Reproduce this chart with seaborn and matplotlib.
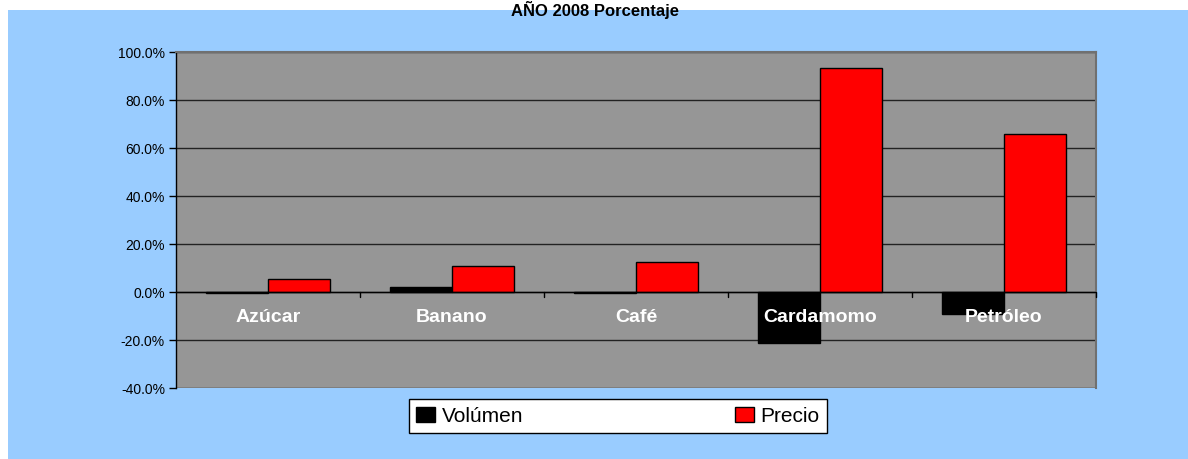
import numpy as np
import pandas as pd
import seaborn as sns
import matplotlib.pyplot as plt
from matplotlib.patches import Rectangle
from matplotlib.ticker import FuncFormatter

productos = ['Azúcar', 'Banano', 'Café', 'Cardamomo', 'Petróleo']
volumen = [-0.3, 1.9, -0.4, -21.2, -9.2]
precio = [5.4, 10.9, 12.4, 93.2, 65.7]

df = pd.DataFrame({
    'producto': productos * 2,
    'serie': ['Volúmen'] * 5 + ['Precio'] * 5,
    'valor': volumen + precio,
})

sns.set_style('white')
plt.rcParams['font.family'] = ['Liberation Sans', 'DejaVu Sans']
plt.rcParams['text.color'] = 'black'
plt.rcParams['ytick.color'] = 'black'

W, H = 1188, 459
fig = plt.figure(figsize=(W / 100, H / 100), dpi=100, facecolor='white')
# fondo azul del area del grafico
fig.patches.append(Rectangle((8 / W, 0), 1 - 8 / W, 1 - 10 / H,
                             transform=fig.transFigure, facecolor='#99CCFF',
                             edgecolor='none', zorder=-5))
fig.text(595 / W, 1 - 1 / H, 'AÑO 2008 Porcentaje', ha='center', va='top',
         fontsize=12, fontweight='bold', color='black')

ax = fig.add_axes([176 / W, 1 - 388 / H, 920 / W, 336 / H])
ax.set_facecolor('#969696')

sns.barplot(data=df, x='producto', y='valor', hue='serie', ax=ax,
            palette={'Volúmen': 'black', 'Precio': '#FF0000'},
            width=0.674, edgecolor='black', linewidth=1, saturation=1,
            legend=False, zorder=3)

ax.set_ylim(-40, 100)
ax.set_xlim(-0.5, 4.5)
ax.set_yticks(np.arange(-40, 101, 20))
ax.yaxis.set_major_formatter(FuncFormatter(lambda v, p: f'{v:.1f}%'))
ax.yaxis.grid(True, color='#222222', linewidth=1, zorder=1)
ax.set_axisbelow(True)
ax.tick_params(axis='y', length=5, width=1, color='black', labelsize=10,
               labelcolor='black', left=True, pad=3)
for s in ['top', 'right']:
    ax.spines[s].set_color('#707070')
    ax.spines[s].set_linewidth(1.5)
ax.spines['bottom'].set_visible(False)
ax.spines['left'].set_color('black')
ax.spines['left'].set_linewidth(1)

ax.set_xticks([])
ax.set_xlabel('')
ax.set_ylabel('')
# eje x en 0 con marcas entre categorias
ax.axhline(0, color='black', linewidth=1, zorder=4)
for b in np.arange(0.5, 4.6, 1):
    ax.plot([b, b], [0, -2], color='black', linewidth=1, zorder=4, clip_on=False)
for i, p in enumerate(productos):
    ax.text(i, -10.5, p, ha='center', va='center', color='white',
            fontsize=14, fontweight='bold', zorder=6)

handles = [Rectangle((0, 0), 1, 1, facecolor='black', edgecolor='black'),
           Rectangle((0, 0), 1, 1, facecolor='#FF0000', edgecolor='black')]
leg = fig.legend(handles, ['Volúmen', 'Precio'], loc='center',
                 bbox_to_anchor=(618 / W, 1 - 416 / H), ncol=2, fontsize=15,
                 frameon=True, fancybox=False, edgecolor='black', framealpha=1,
                 handlelength=0.9, handleheight=0.7, handletextpad=0.3,
                 columnspacing=10.2, borderpad=0.35, borderaxespad=0)
leg.get_frame().set_linewidth(1)
leg.get_frame().set_facecolor('white')
for t in leg.get_texts():
    t.set_color('black')

fig.savefig('out.png', dpi=100, facecolor=fig.get_facecolor())
